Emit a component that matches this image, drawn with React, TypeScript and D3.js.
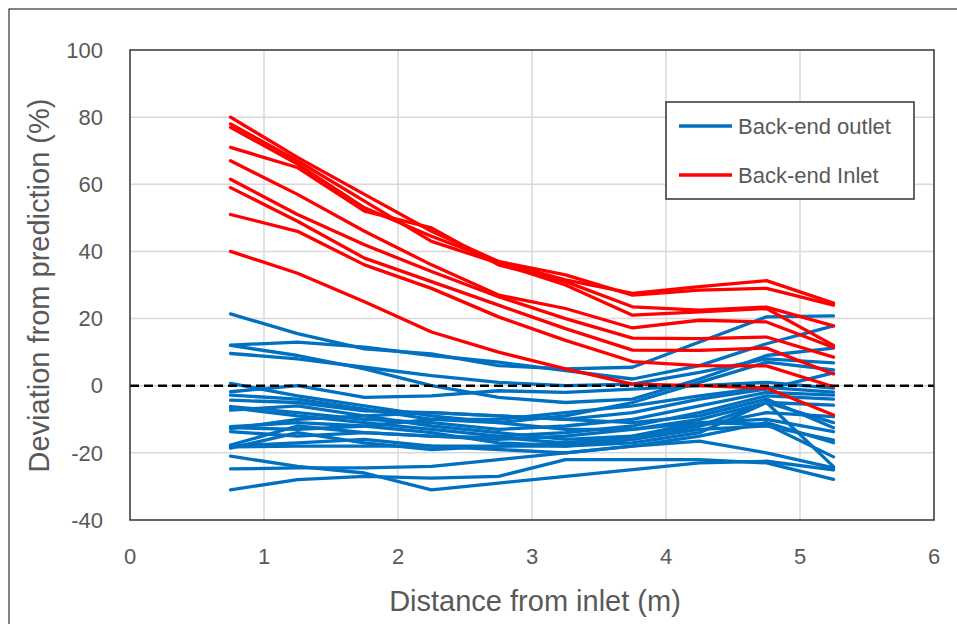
import React from "react";
import * as d3 from "d3";

const xValues = [0.75, 1.25, 1.75, 2.25, 2.75, 3.25, 3.75, 4.25, 4.75, 5.25];

const inletSeries: number[][] = [
  [80, 68, 57, 46, 37, 31.5, 27.5, 29.5, 31.3, 24.6],
  [77, 66, 53, 44.5, 37, 33, 27, 28.5, 29, 24],
  [71, 65, 52, 47, 36, 31, 23.5, 22.5, 23.4, 17.8],
  [78, 67, 55, 43, 36.5, 30, 21, 22, 23, 12],
  [67, 57, 46, 36, 27, 23, 17.2, 19.5, 19, 11.4],
  [61.5, 51, 42, 34, 26.5, 20, 14.2, 14, 14.5, 8.5],
  [59, 49, 38, 31, 24, 17, 10.6, 10.5, 11.2, 3.5],
  [51, 46, 36, 29, 20.5, 13.5, 7.2, 6, 5.9, -0.3],
  [40, 33.5, 25, 16, 10, 5, 0.5, 0, -0.7, -8.7],
];

const outletSeries: number[][] = [
  [21.4, 15.5, 11, 9.5, 6, 5, 5.5, 13, 20.5, 20.8],
  [12.1, 13, 11.5, 9, 7, 4.5, 2, 6, 12.5, 17.8],
  [12, 9, 5, 0, -3.5, -5, -4, 2, 9, 11.2],
  [9.6, 8, 5.5, 3, 1, 0, 0.5, 4, 8, 6.8],
  [0.7, -3, -6, -9, -11, -9, -5, 1, 7, 4.7],
  [-1.8, 0, -3.5, -3, -1.5, -2, -1, 0, 1, -0.7],
  [-2.8, -4, -7, -10, -10, -8, -6, -3, -0.5, -1.9],
  [-4.3, -5, -7.5, -8, -9, -10, -8, -4, -1, 3.8],
  [-6.2, -8, -10, -11, -13, -12, -10, -6, -2, -2.8],
  [-6.5, -9, -11, -13, -15, -14, -12, -8, -3, -4],
  [-7.3, -6, -9, -12, -14, -16, -15, -12, -5, -5.8],
  [-12.2, -11, -12, -14, -17, -18, -16, -12, -8, -9.2],
  [-12.5, -13, -12, -10, -11, -13, -13, -10, -5, -11],
  [-12.8, -10, -9, -8, -9, -10, -11, -9, -4, -12.5],
  [-13.7, -15, -14, -15, -16, -15, -13, -11, -10, -13.7],
  [-17.7, -12, -14, -15, -15.5, -17, -16, -13, -12, -16.2],
  [-18, -17, -16, -18, -19, -20, -18, -15, -11, -17],
  [-18.6, -14, -17, -19, -18, -17, -15, -11, -11.5, -21.2],
  [-18.2, -18, -18, -18, -18, -18, -17, -14, -5, -24.1],
  [-21, -24, -26, -31, -29, -27, -25, -23, -22.5, -25.1],
  [-24.8, -24.5, -24.5, -24, -22, -20, -18, -16.5, -20, -24.5],
  [-31, -28, -27, -27.5, -27, -22, -22, -22, -23, -27.9],
];

const xTicks = [0, 1, 2, 3, 4, 5, 6];
const yTicks = [-40, -20, 0, 20, 40, 60, 80, 100];
const legendLabels = ["Back-end outlet", "Back-end Inlet"];

const BLUE = "#0070C0";
const RED = "#FF0000";
const TEXT = "#595959";
const FONT = "'Liberation Sans', Arial, sans-serif";

export default function App() {
  const left = 130, right = 934, top = 50, bottom = 520;
  const x = d3.scaleLinear().domain([0, 6]).range([left, right]);
  const y = d3.scaleLinear().domain([-40, 100]).range([bottom, top]);
  const line = d3
    .line<number>()
    .x((_, i) => x(xValues[i]))
    .y((d) => y(d));

  return (
    <svg
      width={957}
      height={624}
      style={{ position: "absolute", left: 0, top: 0, background: "#fff" }}
    >
      <rect x={0} y={0} width={957} height={624} fill="#fff" />
      <rect x={9} y={9} width={960} height={630} fill="none" stroke="#333" strokeWidth={1.2} />
      {xTicks.slice(1, -1).map((t) => (
        <line key={"gx" + t} x1={x(t)} x2={x(t)} y1={top} y2={bottom} stroke="#D9D9D9" strokeWidth={1.5} />
      ))}
      {yTicks.slice(1, -1).map((t) => (
        <line key={"gy" + t} x1={left} x2={right} y1={y(t)} y2={y(t)} stroke="#D9D9D9" strokeWidth={1.5} />
      ))}
      {outletSeries.map((s, i) => (
        <path key={"b" + i} d={line(s) || ""} fill="none" stroke={BLUE} strokeWidth={3.3} strokeLinejoin="round" strokeLinecap="round" />
      ))}
      {inletSeries.map((s, i) => (
        <path key={"r" + i} d={line(s) || ""} fill="none" stroke={RED} strokeWidth={3.3} strokeLinejoin="round" strokeLinecap="round" />
      ))}
      <line x1={x(0)} x2={x(6)} y1={y(0)} y2={y(0)} stroke="#000" strokeWidth={2.5} strokeDasharray="9 5" />
      <rect x={left} y={top} width={right - left} height={bottom - top} fill="none" stroke="#333" strokeWidth={1.5} />
      {yTicks.map((t) => (
        <text key={"yl" + t} x={103} y={y(t)} dy="0.35em" textAnchor="end" fontFamily={FONT} fontSize={22} fill={TEXT}>
          {t}
        </text>
      ))}
      {xTicks.map((t) => (
        <text key={"xl" + t} x={x(t)} y={556} dy="0.35em" textAnchor="middle" fontFamily={FONT} fontSize={22} fill={TEXT}>
          {t}
        </text>
      ))}
      <text x={535} y={601} dy="0.35em" textAnchor="middle" fontFamily={FONT} fontSize={29} fill={TEXT}>
        Distance from inlet (m)
      </text>
      <text
        transform={`translate(39, ${(95 + 476) / 2}) rotate(-90)`}
        dy="0.35em"
        textAnchor="middle"
        fontFamily={FONT}
        fontSize={29}
        fill={TEXT}
      >
        Deviation from prediction (%)
      </text>
      <rect x={666} y={102} width={248} height={97} fill="#fff" stroke="#333" strokeWidth={1.5} />
      {legendLabels.map((lab, i) => (
        <g key={lab}>
          <line x1={679} x2={732} y1={126 + i * 49} y2={126 + i * 49} stroke={i === 0 ? BLUE : RED} strokeWidth={3.3} />
          <text x={738} y={126 + i * 49} dy="0.35em" fontFamily={FONT} fontSize={22} fill={TEXT}>
            {lab}
          </text>
        </g>
      ))}
    </svg>
  );
}
